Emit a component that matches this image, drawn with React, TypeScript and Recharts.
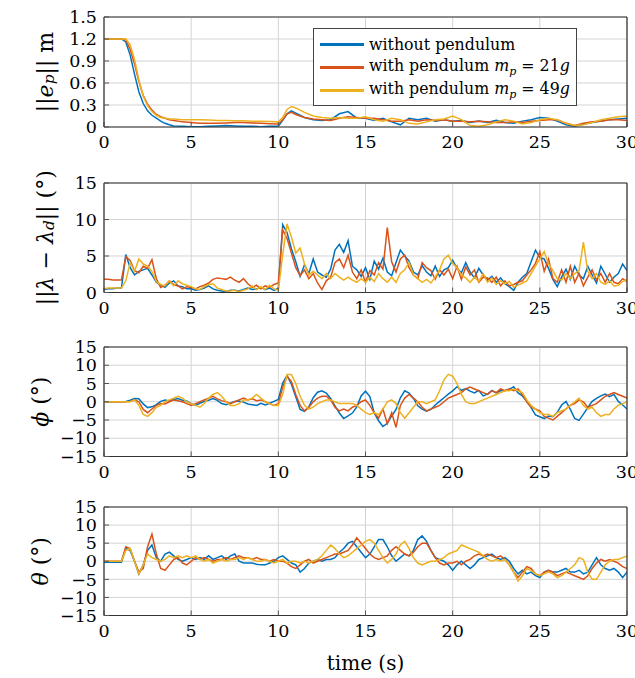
import React from 'react';
import { LineChart, Line, XAxis, YAxis, CartesianGrid, Legend } from 'recharts';

const FONT = '"DejaVu Serif", serif';
const COLORS = ['#0072BD', '#D95319', '#EDB120'];
const SERIES_KEYS = ['a', 'b', 'c'];
const SERIES_NAMES = ['without pendulum', 'with pendulum', 'with pendulum'];
const MASSES = [null, 21, 49];

const X_TICKS = [0, 5, 10, 15, 20, 25, 30];
const X_MINOR = [0,1,2,3,4,5,6,7,8,9,10,11,12,13,14,15,16,17,18,19,20,21,22,23,24,25,26,27,28,29,30];
const E_TICKS = [0, 0.3, 0.6, 0.9, 1.2, 1.5];
const E_MINOR = [0,0.075,0.15,0.225,0.3,0.375,0.45,0.525,0.6,0.675,0.75,0.825,0.9,0.975,1.05,1.125,1.2,1.275,1.35,1.425,1.5];
const L_TICKS = [0, 5, 10, 15];
const L_MINOR = [0,1.25,2.5,3.75,5,6.25,7.5,8.75,10,11.25,12.5,13.75,15];
const A_TICKS = [-15, -10, -5, 0, 5, 10, 15];
const A_MINOR = [-15,-13.75,-12.5,-11.25,-10,-8.75,-7.5,-6.25,-5,-3.75,-2.5,-1.25,0,1.25,2.5,3.75,5,6.25,7.5,8.75,10,11.25,12.5,13.75,15];

// Panel 1: position error ||e_p|| (m)
const T1 = [0,0.5,1,1.25,1.5,1.75,2,2.25,2.5,2.75,3,3.25,3.5,3.75,4,
  4.5,5,5.5,6,6.5,7,7.5,8,8.5,9,9.5,10,
  10.25,10.5,10.75,
  11,11.5,12,12.5,13,13.5,14,14.5,15,15.5,16,16.5,17,17.5,18,18.5,19,19.5,20,20.5,21,21.5,22,22.5,23,23.5,24,24.5,25,25.5,26,26.5,27,27.5,28,28.5,29,29.5,30];
const E_BLUE = [1.2,1.2,1.2,1.16,0.98,0.72,0.48,0.32,0.22,0.16,0.12,0.08,0.05,0.03,0.015,
  0.01,0.005,0.005,0.01,0.015,0.02,0.015,0.01,0.01,0.005,0.01,0.01,
  0.09,0.18,0.22,
  0.19,0.13,0.1,0.09,0.1,0.18,0.21,0.12,0.12,0.09,0.12,0.07,0.03,0.12,0.1,0.12,0.08,0.1,0.08,0.09,0.06,0.08,0.06,0.09,0.06,0.05,0.08,0.1,0.13,0.12,0.08,0.03,0.01,0.04,0.06,0.08,0.1,0.11,0.12];
const E_ORANGE = [1.2,1.2,1.2,1.19,1.06,0.86,0.62,0.43,0.31,0.23,0.17,0.14,0.12,0.1,0.09,
  0.07,0.06,0.05,0.05,0.05,0.055,0.06,0.06,0.055,0.05,0.045,0.04,
  0.1,0.18,0.2,
  0.17,0.13,0.11,0.1,0.09,0.12,0.14,0.13,0.12,0.12,0.1,0.08,0.08,0.1,0.08,0.1,0.09,0.1,0.08,0.08,0.07,0.08,0.07,0.06,0.06,0.07,0.06,0.08,0.09,0.1,0.1,0.05,0.02,0.05,0.07,0.08,0.1,0.1,0.09];
const E_YELLOW = [1.2,1.2,1.2,1.2,1.12,0.92,0.64,0.42,0.29,0.21,0.16,0.13,0.12,0.11,0.11,
  0.1,0.1,0.1,0.095,0.09,0.09,0.085,0.085,0.08,0.08,0.075,0.07,
  0.13,0.24,0.28,
  0.26,0.2,0.15,0.13,0.12,0.13,0.12,0.12,0.14,0.1,0.08,0.12,0.1,0.05,0.04,0.07,0.1,0.11,0.15,0.1,0.02,0.01,0.03,0.07,0.1,0.08,0.04,0.06,0.1,0.12,0.1,0.05,0.02,0.03,0.06,0.1,0.12,0.14,0.15];

// Panels 2-4 sampled every 0.25 s from 0 to 30 s
const T_STEP = 0.25;

const L_BLUE = [
  0.4,0.5,0.5,0.6, 0.6,5.2,3.4,2.4, 2.9,3.1,3.3,2.4, 1.4,1.0,0.7,1.3, 1.6,0.9,0.8,0.5,
  0.5,0.3,0.4,0.6, 0.9,0.5,0.3,0.2, 0.1,0.3,0.3,0.2, 0.4,0.6,0.4,0.5, 0.7,0.4,0.6,0.3,
  0.6,9.3,8.2,6.0, 4.2,2.2,3.8,2.6, 4.6,2.8,2.4,2.1, 3.2,5.8,6.6,5.5, 7.1,3.6,3.1,2.2,
  3.4,1.8,4.3,3.2, 4.7,2.8,2.3,4.1, 5.8,5.0,4.3,2.8, 2.4,3.7,2.8,2.3, 3.6,2.2,3.1,3.4,
  4.4,3.3,2.7,4.1, 2.8,2.0,3.3,2.4, 1.7,2.2,1.4,2.0, 1.2,0.8,0.3,1.4, 2.1,2.6,4.2,5.8,
  4.8,4.6,3.3,1.8, 0.8,2.1,3.2,1.8, 3.6,2.4,1.9,3.6, 2.4,1.3,3.6,2.5, 1.4,2.1,2.6,3.9,
  3.0];
const L_ORANGE = [
  1.8,1.8,1.7,1.7, 1.7,4.9,4.4,3.0, 2.7,3.6,3.3,4.5, 1.9,0.7,1.0,1.6, 1.1,0.9,0.5,0.8,
  0.7,0.5,0.8,1.0, 1.3,1.8,2.0,1.9, 1.8,2.1,1.7,1.4, 1.9,1.2,0.7,1.0, 0.5,0.9,0.7,1.1,
  1.3,8.6,7.4,5.4, 3.4,2.3,3.1,1.9, 2.6,1.3,0.4,1.6, 2.1,4.1,4.6,3.4, 5.1,2.8,1.9,3.1,
  1.4,3.0,2.4,4.1, 3.2,8.9,4.2,2.8, 4.6,5.1,3.4,2.4, 1.9,4.1,3.4,3.0, 1.8,3.1,2.4,3.2,
  1.9,3.6,1.8,3.5, 2.4,3.1,1.4,2.1, 2.0,1.4,2.1,0.9, 1.6,0.9,1.1,1.4, 1.6,2.4,3.1,4.0,
  5.6,2.9,4.6,1.9, 1.4,3.1,1.4,3.6, 1.4,2.6,0.9,2.1, 3.1,1.7,2.6,1.4, 2.6,1.4,1.2,1.9,
  1.5];
const L_YELLOW = [
  0.5,0.6,0.6,0.6, 0.6,1.6,4.1,2.9, 4.6,3.9,3.6,2.9, 1.5,1.1,0.9,1.6, 0.9,1.6,1.2,1.0,
  0.8,0.5,0.4,0.8, 1.1,1.2,0.6,0.4, 0.2,0.2,0.3,0.1, 0.3,0.5,0.9,0.4, 0.8,0.4,1.0,0.5,
  0.3,5.2,9.4,7.6, 5.4,6.1,3.9,2.4, 2.9,2.4,1.9,2.6, 1.9,2.6,2.1,1.7, 2.1,1.7,1.4,1.9,
  1.4,2.1,1.5,2.6, 1.9,1.4,2.1,1.4, 2.6,3.1,4.1,2.4, 1.9,1.4,1.8,1.3, 2.1,3.1,4.6,5.1,
  4.0,3.4,2.4,2.0, 1.4,2.1,1.5,2.6, 1.4,2.0,1.1,1.6, 1.2,1.5,0.7,1.0, 1.3,1.6,2.6,3.6,
  4.6,5.6,3.9,3.0, 1.9,1.7,2.6,1.9, 2.6,3.0,6.9,2.9, 1.9,2.6,1.4,1.1, 1.6,0.9,1.0,1.5,
  1.8];

const PHI_BLUE = [
  0,0,0,0, 0,0.1,0.4,0.9, 0.8,-0.6,-1.6,-1.4, -0.8,0.1,0.5,0.2, 0.6,0.9,0.4,0.2,
  -0.5,-1.0,-0.4,0.1, 0.4,0.9,0.4,-0.5, -0.8,-0.4,0.1,0.2, -0.1,-0.6,-0.8,-1.0, -0.4,-0.9,-0.4,0.1,
  0.6,5.1,7.2,4.8, 1.4,-2.1,-2.6,-1.4, 1.1,2.6,3.0,2.4, 0.9,-1.1,-3.1,-4.6, -3.9,-3.1,-1.4,1.6,
  2.9,1.4,-3.1,-5.2, -6.8,-5.9,-3.9,-2.1, 1.1,3.0,2.4,0.9, -1.1,-2.0,-2.6,-2.1, -0.9,0.1,1.1,2.1,
  3.0,4.1,3.1,3.6, 2.9,2.4,3.1,1.6, 2.1,3.1,2.4,3.0, 3.1,3.4,4.1,2.4, 1.6,0.1,-1.6,-3.6,
  -4.1,-4.6,-3.9,-4.1, -2.9,-0.9,0.1,-2.1, -4.6,-5.1,-3.4,-1.6, 0.1,0.9,1.6,2.1, 1.4,2.0,0.1,-0.9,
  -2.0];
const PHI_ORANGE = [
  0,0,0,0, 0,0,0.1,0.5, 0,-2.1,-3.0,-2.0, -1.0,-0.5,-0.6,0, 0.5,0.3,0,-0.5,
  -1.0,-0.5,0,0.5, 1.0,1.5,0.8,0.3, 0,-0.5,0,0.5, 1.0,0.5,0.8,0.3, 0.5,0,-0.5,-1.0,
  -0.5,4.0,7.0,5.5, 2.0,-1.0,-2.5,-1.5, 0,1.0,1.5,1.5, 0.5,-1.5,-2.5,-2.0, -2.5,-1.5,-1.0,0,
  0.5,-1.0,-3.0,-4.5, -2.0,-6.0,-3.0,-7.0, -1.0,1.0,2.0,1.0, 0,-1.5,-2.5,-2.0, -1.5,-1.0,0,1.0,
  1.5,2.0,2.5,3.5, 4.0,3.5,3.0,2.5, 2.0,3.0,2.5,3.5, 3.0,3.5,3.0,3.5, 2.0,0,-1.5,-2.0,
  -2.5,-4.0,-4.5,-5.0, -4.0,-3.0,-2.0,-1.0, -0.5,0.5,0,-1.5, -1.0,-0.5,0.5,1.5, 2.0,2.5,2.0,1.5,
  1.0];
const PHI_YELLOW = [
  0,0,0,0, 0,0,0,0.5, -1.0,-3.5,-4.0,-3.0, -1.5,-1.0,0,0.5, 1.0,1.5,1.0,0,
  -0.5,-1.0,-1.5,-0.5, 1.0,2.0,2.5,1.5, 0,-1.0,-1.0,-0.5, 0.5,0.5,1.0,2.0, 1.0,0,-0.5,-1.0,
  -1.0,2.0,7.5,7.5, 5.0,1.5,-1.0,-2.0, -1.5,-0.5,0,0.5, 0.5,0,-0.5,-0.5, -0.5,-0.5,-1.0,-2.0,
  -3.0,-3.5,-3.0,-3.5, -2.0,0,0.5,-0.5, -3.0,-4.5,-3.0,-1.5, 0,0,-0.5,0, 0.5,3.0,6.0,7.5,
  7.0,5.0,2.0,0, -0.5,-0.5,0,0.5, 1.0,1.5,2.0,2.5, 3.0,3.0,3.5,3.0, 2.5,0.5,-1.0,-2.0,
  -3.0,-3.5,-3.5,-4.0, -3.0,-2.5,-2.0,-1.0, 0,1.0,-1.0,-2.0, -1.5,-3.0,-4.0,-3.5, -3.5,-2.0,-1.0,-0.5,
  0];

const TH_BLUE = [
  -0.3,-0.3,-0.3,-0.3, -0.3,3.5,3.0,0, -3.5,-1.0,3.0,4.5, 1.0,0,2.0,2.5, 1.5,0.5,0,0.5,
  1.0,0.5,1.0,0.5, 1.5,0.5,1.0,1.5, 0.5,1.5,2.0,0, -0.5,-0.5,-0.5,-0.8, -1.0,-1.0,-0.5,0,
  1.0,1.5,0.5,-0.5, -1.0,-3.0,-2.0,-0.5, 0,0.5,0,0.5, 0.5,1.0,2.5,3.5, 5.0,5.5,4.0,2.5,
  1.0,2.0,4.0,6.0, 6.0,4.0,1.5,0, 1.0,2.0,1.5,3.0, 6.0,7.0,5.5,3.0, 1.0,0.5,0,-1.0,
  -2.5,-1.0,0,-1.0, -2.0,-1.0,0.5,1.0, 1.5,2.0,1.0,0.5, 1.0,0,-2.0,-3.5, -2.5,-3.5,-3.0,-4.0,
  -4.5,-3.0,-2.5,-3.0, -3.0,-2.5,-2.0,-3.0, -3.0,-2.5,-3.5,-3.0, -1.0,1.0,-1.0,-2.0, -2.5,-2.0,-3.0,-4.5,
  -3.0];
const TH_ORANGE = [
  0,0,0,0, 0,4.0,3.5,0, -3.0,-2.0,4.0,7.5, 2.0,-2.0,-2.5,-1.0, 0.5,1.0,-0.5,-1.0,
  0,1.0,0.5,1.0, 0.5,0,0.5,0.5, 1.0,0.5,1.0,1.5, 1.0,1.0,0.5,1.0, 0.5,0.5,0,0.5,
  0,0,-0.5,-1.5, -2.0,-1.0,0,0.5, -0.5,0,0.5,1.0, 1.5,2.0,2.0,2.5, 3.0,4.5,6.5,5.0,
  3.5,2.0,1.0,0.5, 1.0,1.5,3.0,4.0, 3.0,2.0,1.5,2.5, 4.0,5.0,5.0,3.0, 1.0,-0.5,-1.0,-0.5,
  -0.5,0,-1.0,0, 0.5,1.5,2.0,1.5, 2.0,1.5,1.0,1.5, 0.5,-1.0,-3.0,-4.5, -3.0,-1.5,-2.0,-3.5,
  -4.0,-3.0,-2.5,-3.0, -4.0,-3.5,-3.0,-3.5, -4.0,-4.5,-5.0,-4.0, -2.0,-0.5,0.5,0, 0.5,0,-0.5,-1.5,
  -2.0];
const TH_YELLOW = [
  0,0,0,0, 0,3.0,3.5,0, -3.5,-1.0,2.0,1.0, 0.5,0,0.5,1.5, 1.0,1.5,1.0,1.5,
  1.0,1.5,0.5,0, 0.5,-0.5,0,0.5, 0,0.5,0.5,1.0, 0.5,1.0,0.5,0, 0,0.5,0,-0.5,
  0,0.5,-0.5,0, 0,-0.5,0,-0.5, 0,0.5,1.5,3.0, 4.5,3.5,2.0,1.0, 1.5,2.5,3.5,4.5,
  5.5,6.0,5.0,3.0, 1.0,-0.5,0.5,2.0, 4.5,5.5,3.5,1.0, -0.5,-1.0,-0.5,0, 0,0.5,1.0,2.0,
  2.5,3.0,4.5,4.0, 3.5,3.0,2.5,1.5, 0.5,0,0.5,0, 0.5,-1.0,-3.0,-5.5, -4.0,-2.0,-2.5,-3.5,
  -4.0,-3.5,-3.0,-3.5, -4.5,-4.0,-3.0,-2.0, -1.0,1.0,0.5,-3.0, -5.0,-5.0,-3.0,-1.0, 0,0.5,0.5,1.0,
  1.5];

function rows(t: number[] | null, a: number[], b: number[], c: number[]) {
  return a.map((v, i) => ({ t: t ? t[i] : i * T_STEP, a: v, b: b[i], c: c[i] }));
}

const DATA1 = rows(T1, E_BLUE, E_ORANGE, E_YELLOW);
const DATA2 = rows(null, L_BLUE, L_ORANGE, L_YELLOW);
const DATA3 = rows(null, PHI_BLUE, PHI_ORANGE, PHI_YELLOW);
const DATA4 = rows(null, TH_BLUE, TH_ORANGE, TH_YELLOW);

const FRAME = '#333';
const TICKC = '#555';
const TICK_STYLE = { fill: '#000', fontSize: 17.5, fontFamily: FONT };
const THIN = 0.001;
const TOPPAD = 30;

const fmtSigned = (v: number) => (v < 0 ? '\u2212' + Math.abs(v) : String(v));
const fmtE = (v: number) => (v === 0 ? '0' : v.toFixed(1));

function axes(yDomain: number[], yTicks: number[], yMinor: number[], fmt: (v: number) => string, yLabel: any, xLabel?: any) {
  return [
    <XAxis key="x" xAxisId="x" dataKey="t" type="number" domain={[0, 30]} ticks={X_TICKS} interval={0} height={THIN} tick={TICK_STYLE} tickSize={-5} tickMargin={14} axisLine={{ stroke: FRAME, strokeWidth: 1.2 }} tickLine={{ stroke: TICKC }} allowDataOverflow label={xLabel} />,
    <XAxis key="xm" xAxisId="xm" type="number" domain={[0, 30]} ticks={X_MINOR} interval={0} height={THIN} tick={false} tickSize={-2.5} axisLine={false} tickLine={{ stroke: TICKC }} allowDataOverflow />,
    <XAxis key="xt" xAxisId="xt" orientation="top" type="number" domain={[0, 30]} ticks={X_TICKS} interval={0} height={THIN} tick={false} tickSize={-5} axisLine={{ stroke: FRAME, strokeWidth: 1.2 }} tickLine={{ stroke: TICKC }} allowDataOverflow />,
    <XAxis key="xmt" xAxisId="xmt" orientation="top" type="number" domain={[0, 30]} ticks={X_MINOR} interval={0} height={THIN} tick={false} tickSize={-2.5} axisLine={false} tickLine={{ stroke: TICKC }} allowDataOverflow />,
    <YAxis key="y" yAxisId="y" type="number" domain={yDomain} ticks={yTicks} interval={0} width={THIN} tick={TICK_STYLE} tickFormatter={fmt} tickSize={-5} tickMargin={12} axisLine={{ stroke: FRAME, strokeWidth: 1.2 }} tickLine={{ stroke: TICKC }} allowDataOverflow label={yLabel} />,
    <YAxis key="ym" yAxisId="ym" type="number" domain={yDomain} ticks={yMinor} interval={0} width={THIN} tick={false} tickSize={-2.5} axisLine={false} tickLine={{ stroke: TICKC }} allowDataOverflow />,
    <YAxis key="yr" yAxisId="yr" orientation="right" type="number" domain={yDomain} ticks={yTicks} interval={0} width={THIN} tick={false} tickSize={-5} axisLine={{ stroke: FRAME, strokeWidth: 1.2 }} tickLine={{ stroke: TICKC }} allowDataOverflow />,
    <YAxis key="ymr" yAxisId="ymr" orientation="right" type="number" domain={yDomain} ticks={yMinor} interval={0} width={THIN} tick={false} tickSize={-2.5} axisLine={false} tickLine={{ stroke: TICKC }} allowDataOverflow />,
  ];
}

function grids() {
  return [
    <CartesianGrid key="gm" xAxisId="xm" yAxisId="ym" stroke="#ebebeb" />,
    <CartesianGrid key="gM" xAxisId="x" yAxisId="y" stroke="#d3d3d3" />,
  ];
}

function lines() {
  return SERIES_KEYS.map((k, i) => (
    <Line key={k} xAxisId="x" yAxisId="y" dataKey={k} name={SERIES_NAMES[i]} stroke={COLORS[i]} strokeWidth={1.5} dot={false} isAnimationActive={false} />
  ));
}

const SUB = { fontSize: '70%' } as any;

function makeYLabel(cx: number, children: any) {
  return (props: any) => {
    const vb = props.viewBox || {};
    const cy = vb.y + vb.height / 2;
    return (
      <text x={cx} y={cy} transform={`rotate(-90 ${cx} ${cy})`} textAnchor="middle" dominantBaseline="central" fontFamily={FONT} fontSize={22} fill="#000">
        {children}
      </text>
    );
  };
}

const Y1 = makeYLabel(45, [
  <tspan key="1">||</tspan>,
  <tspan key="2" fontStyle="italic">e</tspan>,
  <tspan key="3" fontStyle="italic" style={SUB} dy={4}>p</tspan>,
  <tspan key="4" dy={-4}>|| m</tspan>,
]);
const Y2 = makeYLabel(45, [
  <tspan key="1">||</tspan>,
  <tspan key="2" fontStyle="italic">λ</tspan>,
  <tspan key="3"> − </tspan>,
  <tspan key="4" fontStyle="italic">λ</tspan>,
  <tspan key="5" fontStyle="italic" style={SUB} dy={4}>d</tspan>,
  <tspan key="6" dy={-4}>|| (°)</tspan>,
]);
const Y3 = makeYLabel(40, [
  <tspan key="1" fontStyle="italic">ϕ</tspan>,
  <tspan key="2">  (°)</tspan>,
]);
const Y4 = makeYLabel(40, [
  <tspan key="1" fontStyle="italic">θ</tspan>,
  <tspan key="2">  (°)</tspan>,
]);

const XLabel = (props: any) => {
  const vb = props.viewBox || {};
  return (
    <text x={vb.x + vb.width / 2} y={vb.y + 55} textAnchor="middle" fontFamily={FONT} fontSize={20} fill="#000">time (s)</text>
  );
};

const LegendBox = (props: any) => {
  const payload = [...(props.payload || [])].sort(
    (p: any, q: any) => SERIES_KEYS.indexOf(p.dataKey) - SERIES_KEYS.indexOf(q.dataKey)
  );
  return (
    <div style={{ border: '1.2px solid #444', background: '#fff', padding: '4px 6px 3px 6px', fontFamily: FONT, fontSize: 15.8, color: '#000', boxSizing: 'border-box', width: 264, whiteSpace: 'nowrap' }}>
      {payload.map((p: any) => {
        const i = SERIES_KEYS.indexOf(p.dataKey);
        return (
          <div key={p.dataKey} style={{ display: 'flex', alignItems: 'center', height: 23 }}>
            <span style={{ display: 'inline-block', width: 44, height: 3, background: p.color, marginRight: 5, flex: 'none' }} />
            <span>
              {p.value}
              {MASSES[i] !== null ? (
                <span> <i>m</i><sub style={{ fontSize: 11 }}><i>p</i></sub> = {MASSES[i]}<i>g</i></span>
              ) : null}
            </span>
          </div>
        );
      })}
    </div>
  );
};

const PANELS = [
  { top: 17, h: 110, data: DATA1, dom: [0, 1.5], ticks: E_TICKS, minor: E_MINOR, fmt: fmtE, yl: Y1 },
  { top: 183, h: 109.5, data: DATA2, dom: [0, 15], ticks: L_TICKS, minor: L_MINOR, fmt: fmtSigned, yl: Y2 },
  { top: 346.5, h: 109.5, data: DATA3, dom: [-15, 15], ticks: A_TICKS, minor: A_MINOR, fmt: fmtSigned, yl: Y3 },
  { top: 507, h: 108.5, data: DATA4, dom: [-15, 15], ticks: A_TICKS, minor: A_MINOR, fmt: fmtSigned, yl: Y4 },
];

export default function App() {
  return (
    <div style={{ position: 'absolute', left: 0, top: 0, width: 635, height: 678, overflow: 'hidden', background: '#fff' }}>
      {PANELS.map((p, idx) => {
        const last = idx === PANELS.length - 1;
        const pad = idx === 0 ? 10 : TOPPAD;
        const chartTop = p.top - pad;
        const chartH = last ? 678 - chartTop - 1 : p.h + pad + 40;
        const bottomMargin = chartH - pad - p.h;
        return (
          <div key={idx} style={{ position: 'absolute', left: 0, top: chartTop }}>
            <LineChart width={635} height={chartH} data={p.data} margin={{ top: pad, left: 104, right: 8, bottom: bottomMargin }}>
              {grids()}
              {axes(p.dom, p.ticks, p.minor, p.fmt, p.yl, last ? XLabel : undefined)}
              {lines()}
              {idx === 0 ? (
                <Legend layout="vertical" align="center" verticalAlign="middle" width={264} content={LegendBox} wrapperStyle={{ left: 313, top: 28 - chartTop, width: 264 }} />
              ) : null}
            </LineChart>
          </div>
        );
      })}
    </div>
  );
}
